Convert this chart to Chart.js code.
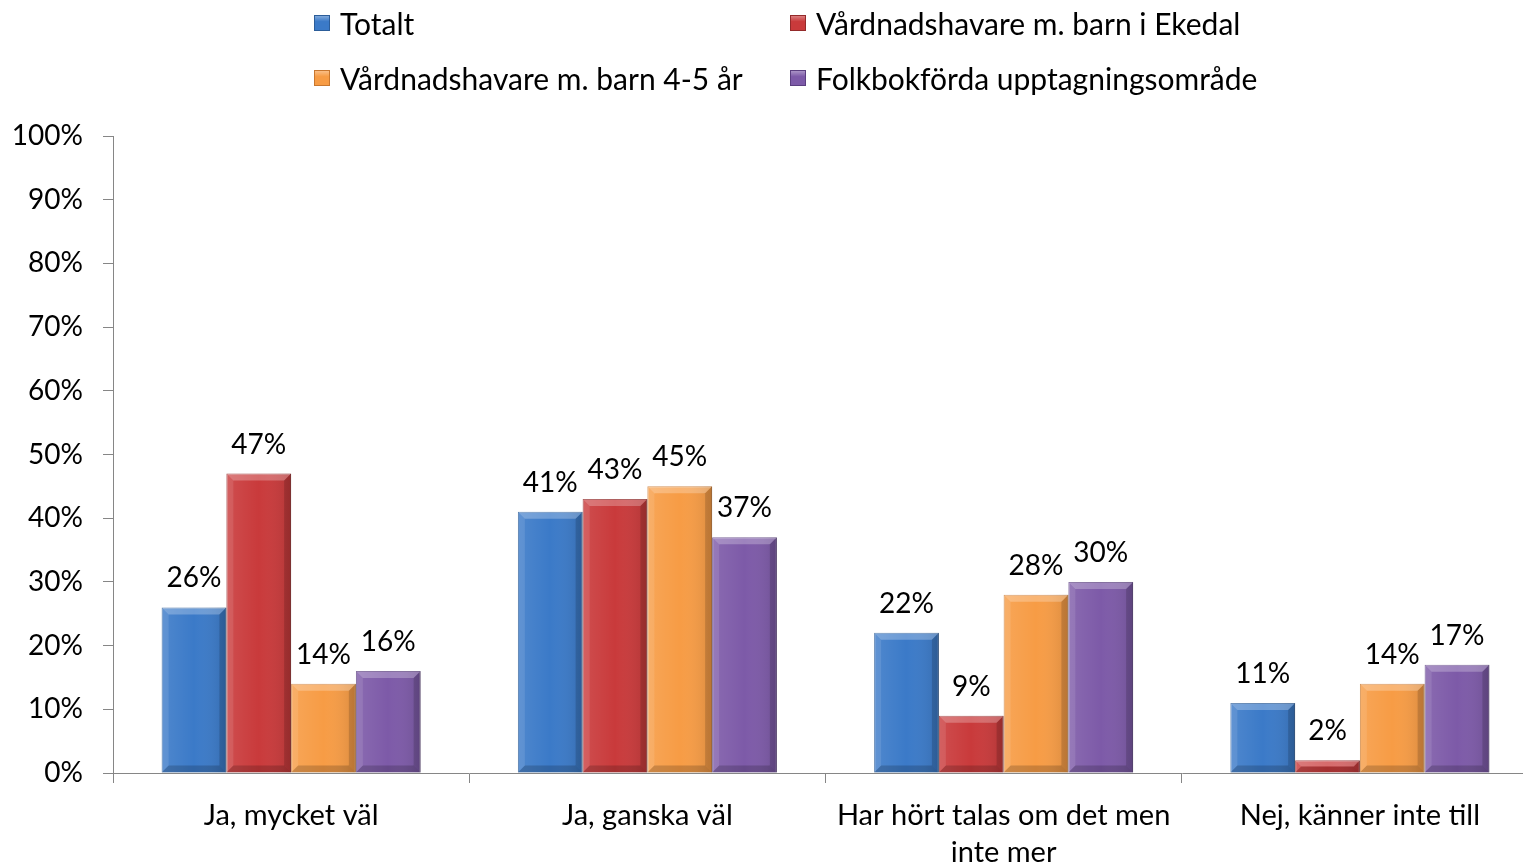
<!DOCTYPE html>
<html>
<head>
<meta charset="utf-8">
<script src="https://cdn.jsdelivr.net/npm/chart.js@4"></script>
<style>
  html, body { margin: 0; padding: 0; background: #fff; overflow: hidden; }
  #wrap { position: relative; width: 1540px; height: 865px; }
  #legend {
    position: absolute; left: 314px; top: 3px;
    display: grid; grid-template-columns: 476px auto; row-gap: 15px;
    font-family: Lato, "Open Sans", sans-serif; font-size: 30px; color: #000;
  }
  .item { display: flex; align-items: center; height: 40px; white-space: nowrap; }
  .box { width: 16px; height: 16px; margin-right: 10px; box-sizing: border-box; }
</style>
</head>
<body>
<div id="wrap">
  <canvas id="chart" width="1540" height="865"></canvas>
  <div id="legend"></div>
</div>
<script>
// Chart data
const categories = ['Ja, mycket väl', 'Ja, ganska väl', ['Har hört talas om det men', 'inte mer'], 'Nej, känner inte till'];
const seriesNames = ['Totalt', 'Vårdnadshavare m. barn i Ekedal', 'Vårdnadshavare m. barn 4-5 år', 'Folkbokförda upptagningsområde'];
const totalt = [26, 41, 22, 11];
const ekedal = [47, 43, 9, 2];
const barn45 = [14, 45, 28, 14];
const folkbokforda = [16, 37, 30, 17];
const yTicks = [0, 10, 20, 30, 40, 50, 60, 70, 80, 90, 100];

const colors = ['#3b7ac8', '#c93a3b', '#f79c45', '#7d5aa8'];
const borders = ['#2c5d99', '#932a2a', '#c8772f', '#5b3f80'];
const FONT = 'Lato, "Open Sans", sans-serif';

// HTML legend in two columns
const legendEl = document.getElementById('legend');
seriesNames.forEach((name, i) => {
  const item = document.createElement('div');
  item.className = 'item';
  const box = document.createElement('span');
  box.className = 'box';
  box.style.background = 'linear-gradient(180deg, rgba(255,255,255,0.35), rgba(255,255,255,0) 40%), ' + colors[i];
  box.style.border = '1px solid ' + borders[i];
  item.appendChild(box);
  item.appendChild(document.createTextNode(name));
  legendEl.appendChild(item);
});

/**
 * Draw a bevel over each bar and the value label above it
 */
const bevelPlugin = {
  id: 'bevel',
  afterDatasetsDraw(chart) {
    const ctx = chart.ctx;
    const b = 7;
    chart.data.datasets.forEach((ds, di) => {
      const meta = chart.getDatasetMeta(di);
      meta.data.forEach((bar, i) => {
        const left = bar.x - bar.width / 2;
        const right = bar.x + bar.width / 2;
        const top = bar.y;
        const bottom = bar.base;
        const bb = Math.min(b, (bottom - top) / 2);
        ctx.save();
        // side shading
        const g = ctx.createLinearGradient(left, 0, right, 0);
        g.addColorStop(0, 'rgba(255,255,255,0.10)');
        g.addColorStop(0.5, 'rgba(255,255,255,0)');
        g.addColorStop(1, 'rgba(0,0,0,0.12)');
        ctx.fillStyle = g;
        ctx.fillRect(left, top, right - left, bottom - top);
        // top bevel
        ctx.beginPath();
        ctx.moveTo(left, top);
        ctx.lineTo(right, top);
        ctx.lineTo(right - bb, top + bb);
        ctx.lineTo(left + bb, top + bb);
        ctx.closePath();
        ctx.fillStyle = 'rgba(255,255,255,0.25)';
        ctx.fill();
        // left bevel
        ctx.beginPath();
        ctx.moveTo(left, top);
        ctx.lineTo(left + bb, top + bb);
        ctx.lineTo(left + bb, bottom - bb);
        ctx.lineTo(left, bottom);
        ctx.closePath();
        ctx.fillStyle = 'rgba(255,255,255,0.10)';
        ctx.fill();
        // right bevel
        ctx.beginPath();
        ctx.moveTo(right, top);
        ctx.lineTo(right - bb, top + bb);
        ctx.lineTo(right - bb, bottom - bb);
        ctx.lineTo(right, bottom);
        ctx.closePath();
        ctx.fillStyle = 'rgba(0,0,0,0.15)';
        ctx.fill();
        // bottom bevel
        ctx.beginPath();
        ctx.moveTo(left, bottom);
        ctx.lineTo(left + bb, bottom - bb);
        ctx.lineTo(right - bb, bottom - bb);
        ctx.lineTo(right, bottom);
        ctx.closePath();
        ctx.fillStyle = 'rgba(0,0,0,0.18)';
        ctx.fill();
        // value label
        ctx.fillStyle = '#000';
        ctx.font = '28px ' + FONT;
        ctx.textAlign = 'center';
        ctx.textBaseline = 'bottom';
        ctx.fillText(ds.data[i] + '%', bar.x, top - 15);
        ctx.restore();
      });
    });
  }
};

const datasets = [totalt, ekedal, barn45, folkbokforda].map((data, i) => ({
  label: seriesNames[i],
  data: data,
  backgroundColor: colors[i],
  borderColor: borders[i],
  borderWidth: 1,
  categoryPercentage: 0.727,
  barPercentage: 1
}));

new Chart(document.getElementById('chart'), {
  type: 'bar',
  data: { labels: categories, datasets: datasets },
  plugins: [bevelPlugin],
  options: {
    responsive: false,
    animation: false,
    layout: { padding: { top: 136, right: 2, left: 0, bottom: 0 } },
    plugins: {
      legend: { display: false },
      tooltip: { enabled: false }
    },
    scales: {
      x: {
        afterFit: (scale) => { scale.height = 92; },
        grid: {
          offset: true,
          drawOnChartArea: false,
          drawTicks: true,
          tickLength: 10,
          color: '#868686'
        },
        border: { color: '#868686', width: 1 },
        ticks: {
          color: '#000',
          font: { family: FONT, size: 29, lineHeight: 1.27 },
          padding: 14,
          maxRotation: 0,
          autoSkip: false
        }
      },
      y: {
        min: 0,
        max: 100,
        afterFit: (scale) => { scale.width = 113; },
        afterBuildTicks: (scale) => { scale.ticks = yTicks.map(v => ({ value: v })); },
        grid: {
          drawOnChartArea: false,
          drawTicks: true,
          tickLength: 10,
          color: '#868686'
        },
        border: { color: '#868686', width: 1 },
        ticks: {
          color: '#000',
          font: { family: FONT, size: 28 },
          padding: 20,
          callback: (v) => v + '%'
        }
      }
    }
  }
});
</script>
</body>
</html>
